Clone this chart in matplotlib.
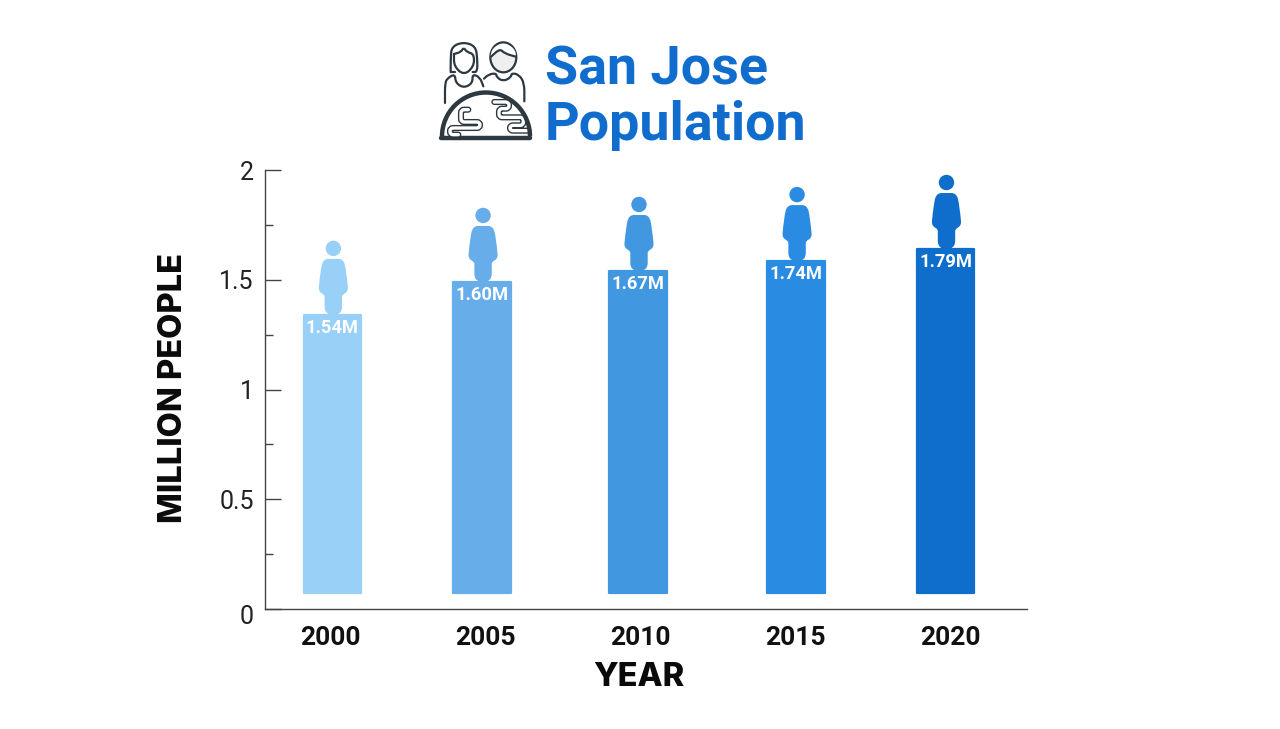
import matplotlib
matplotlib.use("Agg")
import matplotlib.pyplot as plt
from matplotlib.path import Path
from matplotlib.patches import PathPatch, Circle, Arc, Ellipse
from matplotlib.transforms import Affine2D, ScaledTranslation

plt.rcParams["font.family"] = ["Roboto", "DejaVu Sans"]

years = [2000, 2005, 2010, 2015, 2020]
value_labels = ["1.54M", "1.60M", "1.67M", "1.74M", "1.79M"]
bar_tops = [1.34, 1.49, 1.54, 1.585, 1.64]
bar_base = 0.073
bar_colors = ["#99D0F8", "#66ADE9", "#4197E0", "#2A8BE2", "#0F6DCC"]
y_ticks = [0, 0.5, 1, 1.5, 2]
y_tick_labels = ["0", "0.5", "1", "1.5", "2"]
y_minor_ticks = [0.25, 0.75, 1.25, 1.75]

TITLE_COLOR = "#106DCE"
ICON_COLOR = "#2E3840"
AXIS_COLOR = "#444444"
# bars are not quite centred over their year labels
bar_nudge = [0.06, -0.11, -0.08, 0.02, -0.16]

fig = plt.figure(figsize=(12.8, 7.29), dpi=100)
ax = fig.add_axes([265 / 1280, 1 - 609 / 729, 762 / 1280, 439 / 729])
ax.set_xlim(1997.887, 2022.47)
ax.set_ylim(0, 2)

for s in ["top", "right"]:
    ax.spines[s].set_visible(False)
for s in ["left", "bottom"]:
    ax.spines[s].set_color(AXIS_COLOR)
    ax.spines[s].set_linewidth(1.0)

ax.set_xticks(years)
ax.set_xticklabels([str(y) for y in years], fontsize=19, fontweight="bold", color="#111111")
ax.tick_params(axis="x", length=0, pad=12)
ax.set_yticks(y_ticks)
ax.set_yticklabels(y_tick_labels, fontsize=18, color="#222222")
ax.set_yticks(y_minor_ticks, minor=True)
ax.tick_params(axis="y", which="major", direction="in", length=11.5, width=1, color=AXIS_COLOR, pad=8)
ax.tick_params(axis="y", which="minor", direction="in", length=5.5, width=1, color=AXIS_COLOR)
# the 0 label sits lower than its tick
zero_label = ax.get_yticklabels()[0]
zero_label.set_transform(zero_label.get_transform() + ScaledTranslation(0, -4 / 72, fig.dpi_scale_trans))

xs = [y + n for y, n in zip(years, bar_nudge)]
heights = [t - bar_base for t in bar_tops]
bars = ax.bar(xs, heights, bottom=bar_base, width=1.86, color=bar_colors, edgecolor=bar_colors, linewidth=1.6)
for b in bars:
    b.set_joinstyle("round")

fig.text(639 / 1280, 1 - 677 / 729, "YEAR", fontsize=23.5, fontweight="heavy", family=["Inter", "DejaVu Sans"],
         ha="center", va="center", color="#0A0A0A")
fig.text(173 / 1280, 1 - 388 / 729, "MILLION PEOPLE", rotation=90, fontsize=23.5, fontweight="heavy",
         family=["Inter", "DejaVu Sans"], ha="center", va="center", color="#0A0A0A")

# person icon in pixels, origin at bottom middle of the legs, left side is mirrored
side_verts = [(0, 0), (8.7, 0), (8.7, 8), (8.7, 18), (8.7, 20), (11.5, 21.5), (15, 23.5), (14.5, 28),
              (13, 44), (11.5, 50), (10, 56), (5, 56)]
side_codes = [Path.MOVETO, Path.CURVE3, Path.CURVE3, Path.LINETO, Path.CURVE3, Path.CURVE3, Path.CURVE3,
              Path.CURVE3, Path.CURVE3, Path.CURVE3, Path.CURVE3, Path.CURVE3]
verts = side_verts + [(-x, y) for x, y in reversed(side_verts)]
codes = side_codes + [Path.LINETO] + side_codes[:0:-1]
body = Path(verts, codes)

fig.canvas.draw()
for x, top, col, lab in zip(xs, bar_tops, bar_colors, value_labels):
    px, py = ax.transData.transform((x, top))
    tr = Affine2D().translate(px + 1, py)
    ax.add_patch(PathPatch(body, facecolor=col, edgecolor="none", transform=tr, clip_on=False))
    ax.add_patch(Circle((0, 66.5), 7.7, facecolor=col, edgecolor="none", transform=tr, clip_on=False))
    ax.annotate(lab, (x, top), xytext=(0, -9.2), textcoords="offset points", ha="center", va="center",
                color="white", fontsize=13.2, fontweight="bold")

# title, with a full-figure pixel overlay for the icon
over = fig.add_axes([0, 0, 1, 1], facecolor="none")
over.set_xlim(0, 1280)
over.set_ylim(729, 0)
over.axis("off")
over.text(545, 70, "San Jose", fontsize=38.8, fontweight="bold", color=TITLE_COLOR, va="center", ha="left")
over.text(545, 125, "Population", fontsize=38.8, fontweight="bold", color=TITLE_COLOR, va="center", ha="left")


def icon_path(points, rad=4.0):
    # points are read in the 3x crop of the icon, rad rounds off the corners
    pts = [(435 + x / 3, 38 + y / 3) for x, y in points]
    v, c = [pts[0]], [Path.MOVETO]
    for i in range(1, len(pts) - 1):
        p0, p1, p2 = pts[i - 1], pts[i], pts[i + 1]
        d1 = ((p1[0] - p0[0]) ** 2 + (p1[1] - p0[1]) ** 2) ** 0.5 or 1
        d2 = ((p2[0] - p1[0]) ** 2 + (p2[1] - p1[1]) ** 2) ** 0.5 or 1
        r1 = min(rad, d1 / 2)
        r2 = min(rad, d2 / 2)
        a = (p1[0] + (p0[0] - p1[0]) * r1 / d1, p1[1] + (p0[1] - p1[1]) * r1 / d1)
        b = (p1[0] + (p2[0] - p1[0]) * r2 / d2, p1[1] + (p2[1] - p1[1]) * r2 / d2)
        v += [a, p1, b]
        c += [Path.LINETO, Path.CURVE3, Path.CURVE3]
    v.append(pts[-1])
    c.append(Path.LINETO)
    return Path(v, c)


def stroke(points, lw=1.6, color=ICON_COLOR, rad=4.0, fill="none"):
    over.add_patch(PathPatch(icon_path(points, rad), facecolor=fill, edgecolor=color, lw=lw,
                             capstyle="round", joinstyle="round"))


def tube(points):
    # globe land outlines: dark line with a white core
    stroke(points, lw=4.4, rad=3)
    stroke(points, lw=2.4, color="white", rad=3)


# woman
stroke([(47, 102), (47, 62), (50, 25), (87, 12), (122, 25), (127, 62), (127, 102), (113, 102)], rad=14, fill="white")
stroke([(47, 102), (60, 102)], rad=1)
stroke([(57, 48), (57, 85), (87, 112), (117, 85), (117, 48), (95, 42), (86, 28), (78, 42), (57, 48)], rad=9)
stroke([(30, 195), (30, 135), (38, 120), (60, 108), (62, 135), (87, 150), (113, 135), (112, 108), (135, 118), (145, 145)],
       rad=8)
# man
over.add_patch(Ellipse((435 + 205 / 3, 38 + 58 / 3), 26, 30, facecolor="#EFEFEF", edgecolor=ICON_COLOR, lw=1.6))
stroke([(166, 58), (172, 30), (205, 14), (238, 30), (245, 58), (228, 48), (208, 46), (195, 30), (175, 52), (166, 58)],
       rad=7, color="white", lw=0.1, fill="white")
stroke([(168, 56), (195, 32), (208, 46), (242, 56)], rad=8)
stroke([(147, 122), (160, 110), (183, 105), (185, 118), (205, 130), (228, 118), (230, 105), (252, 110), (268, 135), (268, 190)],
       rad=8)

# globe
over.add_patch(Ellipse((486, 136.5), 92, 92, facecolor="white", edgecolor="none", zorder=0.9))
over.add_patch(Arc((486, 136.5), 88, 88, theta1=180, theta2=360, color=ICON_COLOR, lw=3.2, zorder=3))
stroke([(18, 300), (286, 300)], lw=3.2, rad=1)
tube([(178, 192), (222, 192), (222, 212), (192, 212), (192, 238), (265, 238), (265, 262), (225, 262), (225, 278), (280, 278)])
tube([(100, 215), (78, 215), (78, 252), (135, 252), (135, 270), (45, 270), (45, 290), (70, 290)])

fig.savefig("out.png", dpi=100)
